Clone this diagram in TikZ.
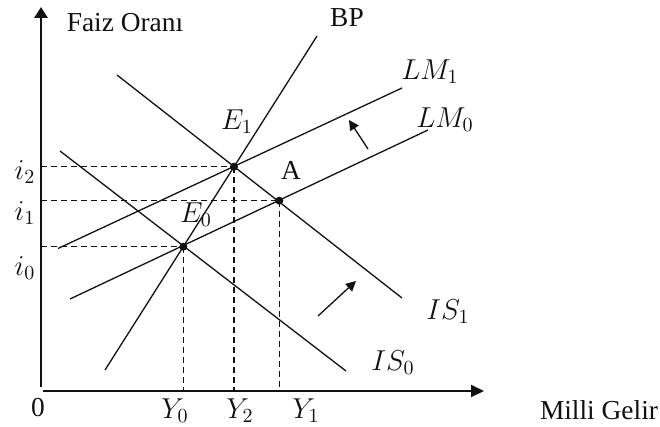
\documentclass[tikz,border=0pt]{standalone}
\usepackage{fontspec}
\setmainfont{Liberation Serif}
\usetikzlibrary{arrows.meta,calc}
\definecolor{GraphInk}{HTML}{111111}

\begin{document}
\begin{tikzpicture}[x=0.5pt,y=-0.5pt,
    curve/.style={GraphInk,line width=0.65pt},
    guide/.style={GraphInk,line width=0.6pt,dash pattern=on 3pt off 2pt},
    shiftarrow/.style={GraphInk,line width=0.65pt,-{Triangle[length=5pt,width=5pt]}},
    lab/.style={text=GraphInk,inner sep=0pt,font=\fontsize{13.7}{16}\selectfont}]
  \useasboundingbox (0,0) rectangle (660,427);

  % points of equilibrium
  \coordinate (O) at (41,391);
  \coordinate (E0) at (183.3,246.7);
  \coordinate (E1) at (234,166.7);
  \coordinate (A) at (279.3,200.7);

  % axes
  \draw[GraphInk,line width=1.4pt,-{Triangle[length=5.5pt,width=6.5pt]}]
    (41,387) -- (41,7) coordinate (ytip);
  \draw[GraphInk,line width=1pt,-{Triangle[length=6.5pt,width=6pt]}]
    (43,391) -- (484,391) coordinate (xtip);

  % curves
  \draw[curve] (105,370) -- (317,36);
  \draw[curve] (58,248.5) -- (402,88);
  \draw[curve] (70,299) -- (428,130);
  \draw[curve] (117,75) -- (402,298);
  \draw[curve] (60,151) -- (346,371);

  % guides to the axes
  \foreach \p in {E0,E1,A}{
    \draw[guide] (\p -| O) -- (\p);
    \draw[guide] (\p) -- (\p |- O);
    \fill[GraphInk] (\p) circle[radius=2pt];
  }

  % shifts
  \draw[shiftarrow] (318,316) -- (356,281);
  \draw[shiftarrow] (368,149) -- (349,120);

  % labels
  \node[lab] (faiz) at (125,23) {Faiz Oranı};
  \node[lab] (milli) at (599,410) {Milli Gelir};
  \node[lab] (zero) at (38,408) {0};
  \node[lab] (bp) at (347,18) {BP};
  \node[lab] (lmone) at (430,72) {$LM_1$};
  \node[lab] (lmzero) at (445,120) {$LM_0$};
  \node[lab] (isone) at (448,312) {$IS_1$};
  \node[lab] (iszero) at (393,363) {$IS_0$};
  \node[lab] (eone) at (237,122) {$E_1$};
  \node[lab] (ezero) at (196,215) {$E_0$};
  \node[lab] (apt) at (291,170) {A};
  \node[lab] (itwo) at (25,172) {$i_2$};
  \node[lab] (ione) at (25,213) {$i_1$};
  \node[lab] (izero) at (25,268) {$i_0$};
  \node[lab] (yzero) at (175,411) {$Y_0$};
  \node[lab] (ytwo) at (240,411) {$Y_2$};
  \node[lab] (yone) at (306,411) {$Y_1$};
\end{tikzpicture}
\end{document}
